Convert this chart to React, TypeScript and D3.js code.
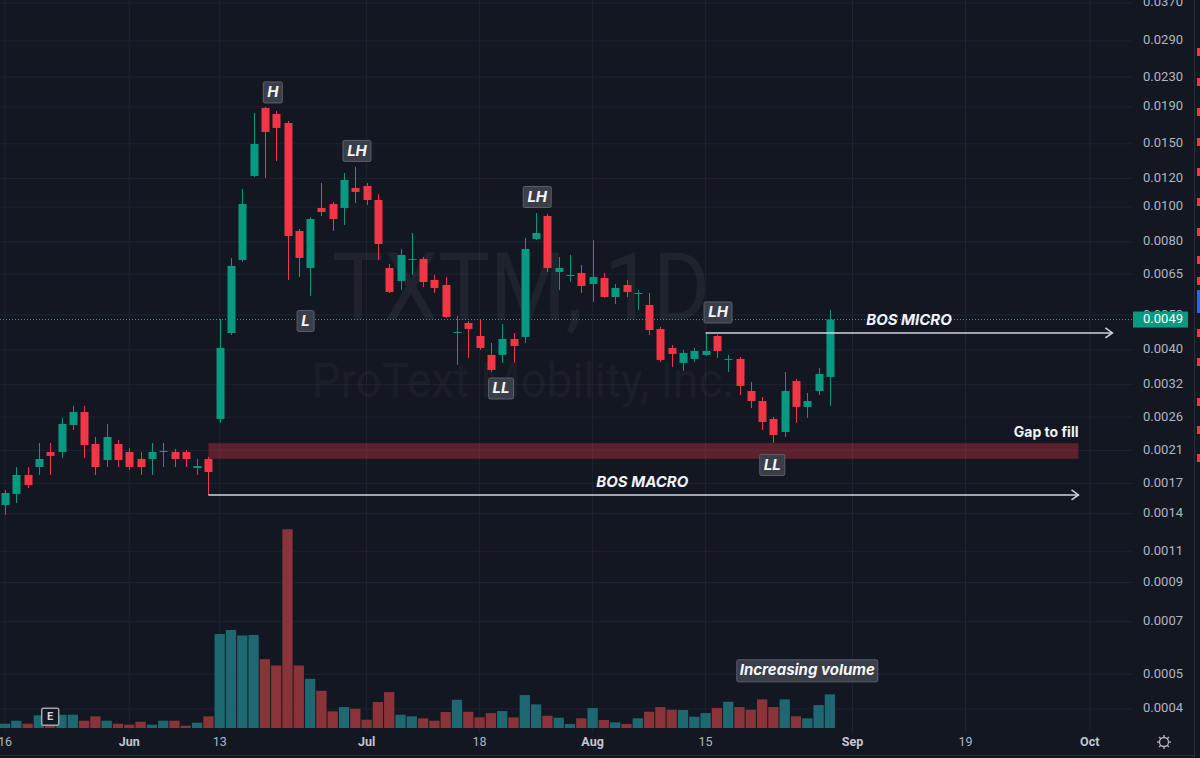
import React from "react";
import * as d3 from "d3";

const W = 1200;
const H = 758;
const PLOT_RIGHT = 1133;

// TXTM daily candles, 16 May 2022 – 30 Aug 2022 (one entry per trading day)
const opens = [
  0.00148, 0.001588, 0.001794, 0.001888, 0.002079, 0.002079, 0.002472, 0.002687, 0.002188, 0.001975,
  0.002188, 0.002079, 0.001988, 0.001988, 0.002079, 0.002079, 0.002079, 0.001876, 0.001988, 0.002569,
  0.004459, 0.007122, 0.012204, 0.018875, 0.018162, 0.017144, 0.008577, 0.006766, 0.00994, 0.010198,
  0.00994, 0.0113, 0.011446, 0.010463, 0.006766, 0.006224, 0.007122, 0.007167, 0.006264, 0.006066,
  0.004459, 0.004755, 0.004374, 0.003873, 0.003873, 0.004291, 0.004347, 0.008148, 0.009443, 0.006594,
  0.006427, 0.006552, 0.006105, 0.006345, 0.005617, 0.006066, 0.005726, 0.005336, 0.004575, 0.004051,
  0.00368, 0.003775, 0.003873, 0.004374, 0.003751, 0.003775, 0.003074, 0.002883, 0.002569, 0.002363,
  0.003278, 0.002775, 0.003074, 0.003364,
];
const highs = [
  0.001629, 0.001888, 0.001888, 0.002202, 0.002202, 0.002586, 0.002793, 0.002793, 0.002289, 0.002488,
  0.002245, 0.002133, 0.002079, 0.002202, 0.002202, 0.00212, 0.002106, 0.001988, 0.002014, 0.004878,
  0.007214, 0.011228, 0.018279, 0.018996, 0.018515, 0.017365, 0.008688, 0.009382, 0.011668, 0.01033,
  0.012441, 0.01293, 0.011668, 0.010874, 0.006942, 0.007642, 0.008468, 0.00726, 0.006468, 0.006386,
  0.004973, 0.004816, 0.004847, 0.004183, 0.004724, 0.004459, 0.0082, 0.009626, 0.009564, 0.00726,
  0.007353, 0.006897, 0.008096, 0.006552, 0.006105, 0.006264, 0.005875, 0.005763, 0.004634, 0.004129,
  0.003999, 0.004051, 0.004459, 0.004403, 0.003873, 0.003823, 0.003257, 0.002958, 0.002603, 0.003473,
  0.003321, 0.003035, 0.003563, 0.005168,
];
const lows = [
  0.001388, 0.001499, 0.00165, 0.001794, 0.001794, 0.002001, 0.002394, 0.002001, 0.001794, 0.001888,
  0.001888, 0.001852, 0.001794, 0.001794, 0.001888, 0.001888, 0.001888, 0.001794, 0.001578, 0.002504,
  0.004403, 0.007031, 0.012126, 0.012049, 0.013437, 0.006264, 0.006386, 0.005653, 0.009443, 0.008577,
  0.008914, 0.010264, 0.010133, 0.007122, 0.005763, 0.005875, 0.006468, 0.005989, 0.005763, 0.00491,
  0.003633, 0.003799, 0.003999, 0.003473, 0.00368, 0.00368, 0.004183, 0.008096, 0.006594, 0.005875,
  0.006184, 0.005763, 0.00544, 0.005581, 0.00537, 0.005617, 0.005168, 0.004403, 0.003703, 0.003586,
  0.003496, 0.003703, 0.003848, 0.003799, 0.003473, 0.002996, 0.002757, 0.002394, 0.002202, 0.002289,
  0.002504, 0.002586, 0.002996, 0.002793,
];
const closes = [
  0.001598, 0.001794, 0.001682, 0.001988, 0.002027, 0.002488, 0.002687, 0.002174, 0.001888, 0.002289,
  0.001975, 0.001888, 0.001888, 0.002079, 0.002093, 0.001988, 0.001988, 0.0019, 0.001828, 0.004051,
  0.006853, 0.010198, 0.014984, 0.016182, 0.016603, 0.008306, 0.007213, 0.009263, 0.009688, 0.009263,
  0.011895, 0.011014, 0.010463, 0.007891, 0.0058, 0.007353, 0.007167, 0.006184, 0.005951, 0.004941,
  0.004488, 0.004575, 0.004051, 0.003518, 0.004291, 0.004103, 0.007642, 0.008468, 0.006766, 0.006766,
  0.006468, 0.006028, 0.006386, 0.005617, 0.005951, 0.0058, 0.005763, 0.004546, 0.003751, 0.003898,
  0.003923, 0.003973, 0.003973, 0.003973, 0.003775, 0.003175, 0.002883, 0.00252, 0.002318, 0.003074,
  0.002775, 0.002883, 0.003429, 0.00486,
];
// volume, relative units
const volumes = [
  4.3, 7.3, 4.3, 12.7, 3, 13.3, 13.3, 7.3, 11.7, 7.3,
  4.3, 3.3, 6.3, 3.3, 7.3, 7.3, 2.3, 5.3, 11.7, 94.3,
  98.3, 92.7, 93.3, 69, 62.7, 199.3, 62.7, 49.3, 37.3, 16.7,
  21, 19.3, 8.3, 26, 36, 13.3, 11.7, 9.7, 7.3, 16,
  28.3, 16.3, 10.7, 15, 17, 10.7, 33, 23.7, 12.3, 10.3,
  4, 9.7, 20, 8, 5.7, 4, 9.7, 16.3, 21, 18.3,
  18, 11.3, 15, 20, 26.3, 21, 18.3, 28.7, 21, 28.7,
  11.7, 9.7, 23, 33.7,
];

const priceTicks = [
  0.037, 0.029, 0.023, 0.019, 0.015, 0.012, 0.01, 0.008, 0.0065, 0.005, 0.004,
  0.0032, 0.0026, 0.0021, 0.0017, 0.0014, 0.0011, 0.0009, 0.0007, 0.0005, 0.0004,
];
const timeTickIndex = [0, 11, 19, 32, 42, 52, 62, 75, 85, 96];
const timeTickLabels = ["16", "Jun", "13", "Jul", "18", "Aug", "15", "Sep", "19", "Oct"];

const swingLabels = [
  { text: "H", at: 23.7, price: 0.02085 },
  { text: "LH", at: 31.15, price: 0.01433 },
  { text: "L", at: 26.6, price: 0.004816 },
  { text: "LH", at: 47.1, price: 0.010666 },
  { text: "LL", at: 43.9, price: 0.003124 },
  { text: "LH", at: 63.1, price: 0.005086 },
  { text: "LL", at: 67.9, price: 0.001913 },
];
const boxWidth: Record<string, number> = { H: 19, L: 17, LH: 28, LL: 25 };

const gap = { from: 18, to: 95, top: 0.0022, bottom: 0.00199 };
const bosLines = [
  { name: "BOS MACRO", from: 18, to: 95, price: lows[18], labelAt: 56.4 },
  { name: "BOS MICRO", from: 62, to: 98, price: highs[62], labelAt: 80 },
];
const volumeNote = { text: "Increasing volume", at: 71, price: 0.000511 };
const earningsMark = { at: 4, price: 0.0003805 };

const sideMarks = [52, 82, 112, 142, 172, 202, 232, 260, 281, 333, 362, 402, 430, 458];

const UP = "#089981";
const DOWN = "#f23645";
const UP_VOL = "#1e6872";
const DOWN_VOL = "#8a3338";
const AXIS_TEXT = "#b2b5be";
const GRID = "#1f2330";
const FONT = "Roboto, 'Noto Sans', sans-serif";
const LABEL_FONT = "Inter, Roboto, sans-serif";

export default function App() {
  const x = d3.scaleLinear().domain([0, 96]).range([5, 5 + 96 * 11.3]);
  const y = d3.scaleLog().domain([0.037, 0.0004]).range([3, 709]);
  const yVol = d3.scaleLinear().domain([0, 200]).range([728, 528.5]);
  const step = x(1) - x(0);
  const bodyW = 8;
  const fmt = d3.format(".4f");

  const candles = d3.range(opens.length).map((i) => ({
    i,
    o: opens[i],
    h: highs[i],
    l: lows[i],
    c: closes[i],
    v: volumes[i],
    up: closes[i] >= opens[i],
  }));

  const last = closes[closes.length - 1];
  const lastY = y(last);

  const gear = (cx: number, cy: number) =>
    d3.range(8).map((k) => {
      const a = (k * Math.PI) / 4;
      return (
        <line
          key={k}
          x1={cx + Math.cos(a) * 4.5}
          y1={cy + Math.sin(a) * 4.5}
          x2={cx + Math.cos(a) * 7}
          y2={cy + Math.sin(a) * 7}
          stroke={AXIS_TEXT}
          strokeWidth={1.3}
        />
      );
    });

  return (
    <svg
      width={W}
      height={H}
      style={{ position: "absolute", left: 0, top: 0, display: "block" }}
    >
      <rect width={W} height={H} fill="#131722" />

      {/* grid */}
      <g>
        {priceTicks.map((t) => (
          <line key={t} x1={0} x2={PLOT_RIGHT} y1={y(t)} y2={y(t)} stroke={GRID} />
        ))}
        {timeTickIndex.map((t) => (
          <line key={t} x1={x(t)} x2={x(t)} y1={0} y2={733} stroke={GRID} />
        ))}
      </g>

      {/* watermark */}
      <g fill="#ffffff" fillOpacity={0.055} fontFamily={FONT} textAnchor="middle">
        <text x={521} y={320} fontSize={94} textLength={378} lengthAdjust="spacingAndGlyphs">
          TXTM, 1D
        </text>
        <text x={523} y={397} fontSize={48} textLength={423} lengthAdjust="spacingAndGlyphs">
          ProText Mobility, Inc.
        </text>
      </g>

      {/* volume */}
      <g>
        {candles.map((d) => (
          <rect
            key={d.i}
            x={x(d.i) - (step - 1) / 2}
            width={step - 1}
            y={yVol(d.v)}
            height={yVol(0) - yVol(d.v)}
            fill={d.up ? UP_VOL : DOWN_VOL}
          />
        ))}
      </g>

      {/* gap zone */}
      <rect
        x={x(gap.from)}
        width={x(gap.to) - x(gap.from)}
        y={y(gap.top)}
        height={y(gap.bottom) - y(gap.top)}
        fill="#f23645"
        fillOpacity={0.33}
      />

      {/* last price line */}
      <line
        x1={0}
        x2={PLOT_RIGHT}
        y1={lastY}
        y2={lastY}
        stroke="#4f8c85"
        strokeDasharray="1,2"
      />

      {/* candles */}
      <g>
        {candles.map((d) => {
          const col = d.up ? UP : DOWN;
          const top = y(Math.max(d.o, d.c));
          const bot = y(Math.min(d.o, d.c));
          const cx = Math.round(x(d.i)) + 0.5;
          return (
            <g key={d.i}>
              <line x1={cx} x2={cx} y1={y(d.h)} y2={y(d.l)} stroke={col} />
              <rect
                x={cx - bodyW / 2}
                width={bodyW}
                y={top}
                height={Math.max(1, bot - top)}
                fill={col}
              />
            </g>
          );
        })}
      </g>

      {/* BOS lines */}
      <g>
        {bosLines.map((b) => {
          const yy = y(b.price);
          const x2 = x(b.to);
          return (
            <g key={b.name}>
              <line x1={x(b.from)} x2={x2} y1={yy} y2={yy} stroke="#d1d4dc" strokeWidth={1.5} />
              <path
                d={`M${x2 - 7},${yy - 5} L${x2},${yy} L${x2 - 7},${yy + 5}`}
                fill="none"
                stroke="#d1d4dc"
                strokeWidth={1.5}
              />
              <text
                x={x(b.labelAt)}
                y={yy - 12.5}
                textAnchor="middle"
                dominantBaseline="middle"
                fontFamily={LABEL_FONT}
                fontSize={15}
                fontWeight={700}
                fontStyle="italic"
                fill="#f0f3fa"
              >
                {b.name}
              </text>
            </g>
          );
        })}
        <text
          x={x(gap.to)}
          y={y(gap.top) - 10}
          textAnchor="end"
          dominantBaseline="middle"
          fontFamily={LABEL_FONT}
          fontSize={14}
          fontWeight={700}
          fill="#f0f3fa"
        >
          Gap to fill
        </text>
      </g>

      {/* swing labels */}
      <g fontFamily={LABEL_FONT} fontSize={15} fontWeight={700} fontStyle="italic">
        {swingLabels.map((s, k) => {
          const w = boxWidth[s.text];
          const cx = x(s.at);
          const cy = y(s.price);
          return (
            <g key={k}>
              <rect
                x={cx - w / 2}
                y={cy - 10.5}
                width={w}
                height={21}
                rx={1.5}
                fill="#3a3e49"
                stroke="#5b5f6b"
              />
              <text x={cx} y={cy + 0.5} textAnchor="middle" dominantBaseline="middle" fill="#f5f6f8">
                {s.text}
              </text>
            </g>
          );
        })}
        <rect
          x={x(volumeNote.at) - 70.5}
          y={y(volumeNote.price) - 11}
          width={141}
          height={22}
          rx={1.5}
          fill="#3a3e49"
          stroke="#5b5f6b"
        />
        <text
          x={x(volumeNote.at)}
          y={y(volumeNote.price) + 0.5}
          textAnchor="middle"
          dominantBaseline="middle"
          fill="#f5f6f8"
        >
          {volumeNote.text}
        </text>
      </g>

      {/* earnings badge */}
      <g>
        <rect
          x={x(earningsMark.at) - 8.5}
          y={y(earningsMark.price) - 8.5}
          width={17}
          height={17}
          rx={1.5}
          fill="#131722"
          stroke="#a3a6af"
          strokeWidth={1.5}
        />
        <text
          x={x(earningsMark.at)}
          y={y(earningsMark.price) + 0.5}
          textAnchor="middle"
          dominantBaseline="middle"
          fontFamily={FONT}
          fontSize={11}
          fontWeight={700}
          fill="#d1d4dc"
        >
          E
        </text>
      </g>

      {/* price axis */}
      <g fontFamily={FONT} fontSize={13} fill={AXIS_TEXT} textAnchor="end">
        {priceTicks.map((t) => (
          <text key={t} x={1183} y={y(t)} dominantBaseline="middle">
            {fmt(t)}
          </text>
        ))}
      </g>
      <rect x={PLOT_RIGHT} y={lastY - 8} width={55} height={16} fill={UP} />
      <text
        x={1183}
        y={lastY + 0.5}
        textAnchor="end"
        dominantBaseline="middle"
        fontFamily={FONT}
        fontSize={13}
        fill="#ffffff"
      >
        {fmt(last)}
      </text>

      {/* time axis */}
      <g fontFamily={FONT} fontSize={12.5} fill={AXIS_TEXT} textAnchor="middle">
        {timeTickIndex.map((t, k) => {
          const lab = timeTickLabels[k];
          const isMonth = /[A-Za-z]/.test(lab);
          return (
            <text
              key={t}
              x={x(t)}
              y={743}
              dominantBaseline="middle"
              fontWeight={isMonth ? 700 : 400}
              fill={isMonth ? "#c3c6ce" : AXIS_TEXT}
            >
              {lab}
            </text>
          );
        })}
      </g>
      <line x1={0} x2={1194} y1={755.5} y2={755.5} stroke="#2a2e39" />
      <g>
        <circle cx={1164} cy={742} r={4.5} fill="none" stroke={AXIS_TEXT} strokeWidth={1.3} />
        {gear(1164, 742)}
      </g>

      {/* right edge */}
      <line x1={1194.5} x2={1194.5} y1={0} y2={H} stroke="#2a2e39" />
      {sideMarks.map((m) => (
        <rect key={m} x={1197} y={m - 4} width={3} height={8} fill={DOWN} />
      ))}
      <rect x={1197} y={290} width={3} height={23} fill="#2962ff" />
    </svg>
  );
}
